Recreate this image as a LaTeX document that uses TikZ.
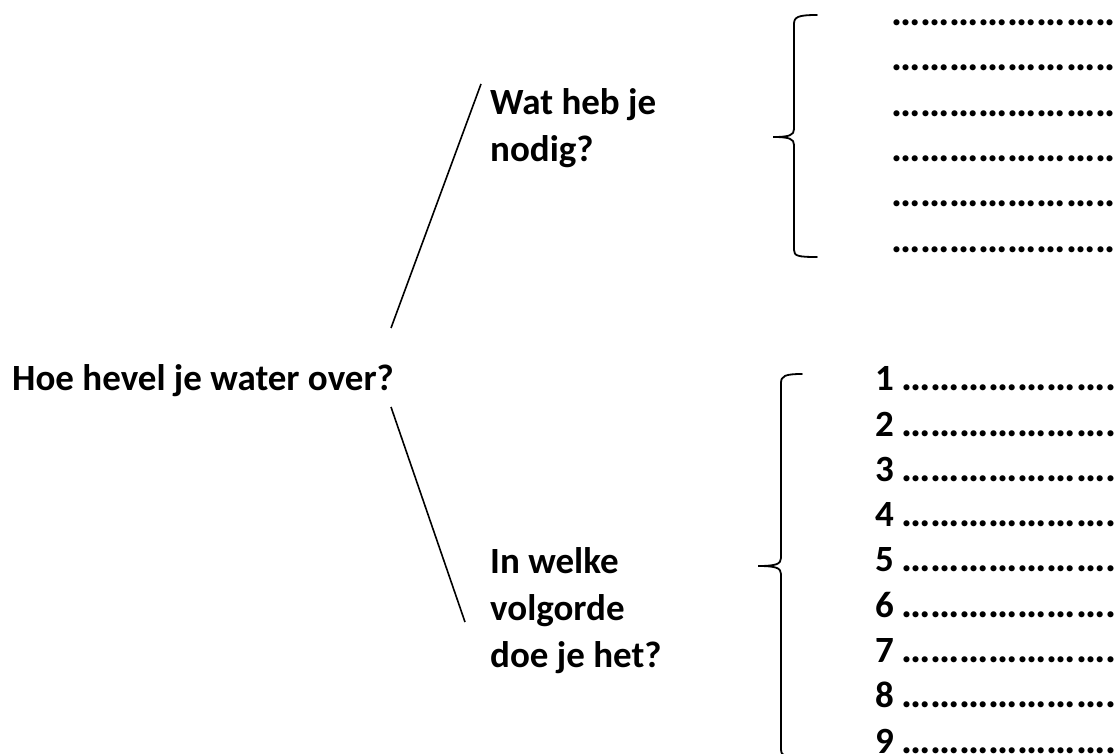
\documentclass[tikz,border=0pt]{standalone}
\usepackage{fontspec}
\setmainfont{Carlito}
\newcommand{\dotsrow}{\char"2026\char"2026\char"2026\char"2026\char"2026\char"2026\char"2026\char"2026\char"2026}
\begin{document}
\begin{tikzpicture}[x=1pt,y=-1pt,
  lbl/.style={inner sep=0pt, anchor=base west, font=\fontsize{37}{47}\selectfont\bfseries, align=left},
  numlbl/.style={inner sep=0pt, anchor=base west, font=\fontsize{37}{47}\selectfont\bfseries},
  dotline/.style={inner sep=0pt, anchor=base west, font=\fontsize{41}{47}\selectfont\bfseries},
  brace/.style={line width=1.8pt, line cap=round},
  conn/.style={line width=1.6pt}]
\useasboundingbox (0,0) rectangle (1114,754);
\clip (0,0) rectangle (1114,754);
% main labels (base anchor = baseline of last line)
\node[lbl] (root) at (12,390) {Hoe hevel je water over?};
\node[lbl] (need) at (490,162) {Wat heb je\\nodig?};
\node[lbl] (order) at (490,667) {In welke\\volgorde\\doe je het?};
% connectors
\coordinate (r1) at (391,328);
\coordinate (n1) at (481,84);
\coordinate (r2) at (391,407);
\coordinate (o1) at (465,622);
\draw[conn] (r1) -- (n1);
\draw[conn] (r2) -- (o1);
% brace 1
\coordinate (b1top) at (817,15);
\coordinate (b1tip) at (773,137);
\coordinate (b1bot) at (817,257);
\draw[brace] (b1top) .. controls (798,15) and (794,17) .. (794,24) -- (794,129)
  .. controls (794,135) and (790,137) .. (b1tip)
  .. controls (790,137) and (794,139) .. (794,145) -- (794,250)
  .. controls (794,256) and (798,257) .. (b1bot);
% brace 2
\coordinate (b2top) at (802,374);
\coordinate (b2tip) at (758,566);
\coordinate (b2bot) at (802,758);
\draw[brace] (b2top) .. controls (785,374) and (781,376) .. (781,383) -- (781,558)
  .. controls (781,564) and (776,566) .. (b2tip)
  .. controls (776,566) and (781,568) .. (781,574) -- (781,749)
  .. controls (781,756) and (785,758) .. (b2bot);
% upper dotted rows
\foreach \i in {0,...,5}{
  \node[dotline] (u\i) at (891,25.5+45.3*\i) {\dotsrow};
}
% numbered rows
\foreach \i in {1,...,9}{
  \node[numlbl] (k\i) at (875,390.7+45.3*\i-45.3) {\i};
  \node[dotline] (d\i) at (901,390.7+45.3*\i-45.3) {\dotsrow};
}
\end{tikzpicture}
\end{document}
